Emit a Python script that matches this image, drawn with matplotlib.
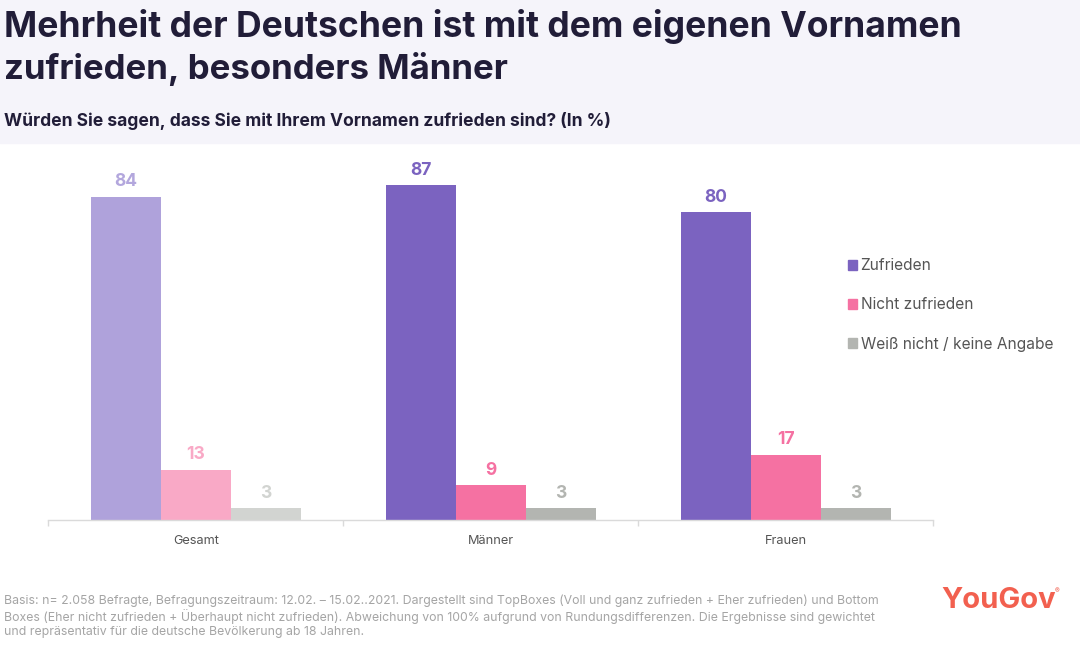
import matplotlib
matplotlib.use("Agg")
import matplotlib.pyplot as plt
from matplotlib.patches import Rectangle, Patch
import numpy as np

plt.rcParams['font.family'] = ['Inter', 'DejaVu Sans']

categories = ["Gesamt", "Männer", "Frauen"]
zufrieden = [84, 87, 80]
nicht_zufrieden = [13, 9, 17]
weiss_nicht = [3, 3, 3]
series_names = ["Zufrieden", "Nicht zufrieden", "Weiß nicht / keine Angabe"]

title = "Mehrheit der Deutschen ist mit dem eigenen Vornamen\nzufrieden, besonders Männer"
subtitle = "Würden Sie sagen, dass Sie mit Ihrem Vornamen zufrieden sind? (In %)"
footnote = ("Basis: n= 2.058 Befragte, Befragungszeitraum: 12.02. – 15.02..2021. Dargestellt sind TopBoxes (Voll und ganz zufrieden + Eher zufrieden) und Bottom\n"
            "Boxes (Eher nicht zufrieden + Überhaupt nicht zufrieden). Abweichung von 100% aufgrund von Rundungsdifferenzen. Die Ergebnisse sind gewichtet\n"
            "und repräsentativ für die deutsche Bevölkerung ab 18 Jahren.")

W, H = 1080, 649
fig = plt.figure(figsize=(W/100, H/100), dpi=100, facecolor="white")

fig.add_artist(Rectangle((0, 1-143/H), 1, 143/H, transform=fig.transFigure, color="#F5F4FA", zorder=0))

ax = fig.add_axes([48.2/W, 1-520/H, (933-48)/W, 376/H])
ax.set_xlim(-0.5, 2.5)
ax.set_ylim(0, 97.75)
ax.patch.set_alpha(0)

series = [zufrieden, nicht_zufrieden, weiss_nicht]
full_colors = ["#7B63C0", "#F571A2", "#B3B5B1"]
light_colors = ["#AFA2DB", "#F9A9C6", "#D2D4D1"]
label_full = ["#7B63C0", "#F571A2", "#B3B5B1"]
label_light = ["#B3A7DD", "#F9A9C6", "#D2D4D1"]
bw = 70/295
x = np.arange(len(categories))
for i, vals in enumerate(series):
    cols = [light_colors[i]] + [full_colors[i]]*2
    lcols = [label_light[i]] + [label_full[i]]*2
    pos = x + (i-1)*bw
    ax.bar(pos, vals, width=bw, color=cols, linewidth=0)
    for p, v, c in zip(pos, vals, lcols):
        ax.annotate(str(v), (p, v), xytext=(0, 4.8), textcoords="offset points",
                    ha="center", va="bottom", color=c, fontsize=12.5, fontweight="bold")

for s in ["top", "left", "right"]:
    ax.spines[s].set_visible(False)
ax.spines["bottom"].set_color("#DADADA")
ax.spines["bottom"].set_linewidth(1)
ax.set_yticks([])
ax.set_xticks(x)
ax.set_xticklabels(categories, fontsize=9.2, color="#555555")
ax.tick_params(axis="x", length=0, pad=11)
ax.set_xticks([-0.5, 0.5, 1.5, 2.5], minor=True)
ax.tick_params(axis="x", which="minor", length=4, color="#DADADA", width=1)

handles = [Patch(color=c, label=n) for c, n in zip(full_colors, series_names)]
fig.legend(handles=handles, loc="upper left", bbox_to_anchor=(844.5/W, 1-255/H), frameon=False,
           fontsize=11.15, labelcolor="#555555", handlelength=0.62, handleheight=0.62,
           handletextpad=0.22, labelspacing=1.57, borderpad=0.2, borderaxespad=0)

fig.text(4/W, 1-26/H, title.split("\n")[0], fontsize=25.6, fontweight="bold", color="#211D38", va="center", ha="left")
fig.text(4/W, 1-69/H, title.split("\n")[1], fontsize=25.05, fontweight="bold", color="#211D38", va="center", ha="left")
fig.text(4/W, 1-121.5/H, subtitle, fontsize=12.56, fontweight="bold", color="#211D38", va="center", ha="left")
for line, y in zip(footnote.split("\n"), [600.5, 616, 631.5]):
    fig.text(4/W, 1-y/H, line, fontsize=8.86, color="#A5A5A5", va="center", ha="left")
fig.text(941/W, 1-600/H, "YouGov", fontsize=21, fontweight="bold", color="#F2604F", va="center", ha="left")
fig.text(1055/W, 1-591/H, "®", fontsize=5, color="#F2604F", va="center", ha="left")

fig.savefig("out.png", dpi=100, facecolor="white")
